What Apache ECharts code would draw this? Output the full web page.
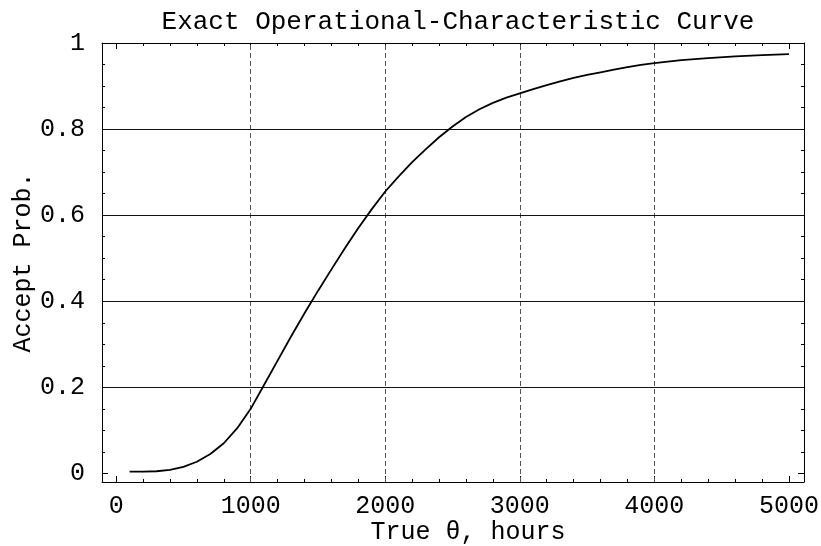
<!DOCTYPE html>
<html>
<head>
<meta charset="utf-8">
<script src="https://cdn.jsdelivr.net/npm/echarts@6/dist/echarts.min.js"></script>
<style>
  html, body { margin: 0; padding: 0; background: #fff; }
  #chart { width: 821px; height: 546px; }
</style>
</head>
<body>
<div id="chart"></div>
<script>
// Mean life θ (hours) and probability of accepting the lot
var theta = [100, 200, 300, 400, 500, 600, 700, 800, 900, 1000,
             1100, 1200, 1300, 1400, 1500, 1600, 1700, 1800, 1900, 2000,
             2100, 2200, 2300, 2400, 2500, 2600, 2700, 2800, 2900, 3000,
             3100, 3200, 3300, 3400, 3500, 3600, 3700, 3800, 3900, 4000,
             4200, 4400, 4600, 4800, 5000];
var acceptProb = [0.004, 0.004, 0.005, 0.008, 0.015, 0.027, 0.045, 0.07, 0.105, 0.15,
                  0.206, 0.262, 0.318, 0.372, 0.424, 0.474, 0.523, 0.570, 0.614, 0.655,
                  0.690, 0.723, 0.753, 0.781, 0.806, 0.828, 0.846, 0.861, 0.873, 0.883,
                  0.893, 0.902, 0.911, 0.919, 0.926, 0.932, 0.938, 0.944, 0.949, 0.953,
                  0.960, 0.965, 0.969, 0.972, 0.974];

// Tick positions
var xMajor = [0, 1000, 2000, 3000, 4000, 5000];
var xMinor = [0, 200, 400, 600, 800, 1000, 1200, 1400, 1600, 1800, 2000, 2200, 2400, 2600, 2800,
              3000, 3200, 3400, 3600, 3800, 4000, 4200, 4400, 4600, 4800, 5000];
var yMajor = [0, 0.2, 0.4, 0.6, 0.8, 1];
var yMinor = [0, 0.05, 0.1, 0.15, 0.2, 0.25, 0.3, 0.35, 0.4, 0.45, 0.5, 0.55, 0.6, 0.65,
              0.7, 0.75, 0.8, 0.85, 0.9, 0.95, 1];
var xLabels = ['0', '1000', '2000', '3000', '4000', '5000'];
var yLabels = ['0', '0.2', '0.4', '0.6', '0.8', '1'];

// Grid lines
var xGrid = [1000, 2000, 3000, 4000];
var yGrid = [0.2, 0.4, 0.6, 0.8];

var FONT = '"Liberation Mono", "DejaVu Sans Mono", monospace';
var X_MIN = -105, X_MAX = 5112, Y_MIN = -0.02, Y_MAX = 1.0;

function xAx(pos, ticks, len, line, labels) {
  return {
    type: 'value', position: pos, min: X_MIN, max: X_MAX,
    axisLine: { show: line, onZero: false, lineStyle: { color: '#000', width: 1 } },
    axisTick: { show: true, inside: true, length: len, customValues: ticks,
                lineStyle: { color: '#000', width: 1 } },
    axisLabel: labels ? {
      show: true, customValues: xMajor, color: '#000', fontFamily: FONT, fontSize: 25, margin: 12,
      formatter: function (v) { return xLabels[xMajor.indexOf(Math.round(v))]; }
    } : { show: false },
    splitLine: { show: false }
  };
}
function yAx(pos, ticks, len, line, labels) {
  return {
    type: 'value', position: pos, min: Y_MIN, max: Y_MAX,
    axisLine: { show: line, onZero: false, lineStyle: { color: '#000', width: 1 } },
    axisTick: { show: true, inside: true, length: len, customValues: ticks,
                lineStyle: { color: '#000', width: 1 } },
    axisLabel: labels ? {
      show: true, customValues: yMajor, color: '#000', fontFamily: FONT, fontSize: 25, margin: 17,
      formatter: function (v) { return yLabels[yMajor.indexOf(Math.round(v * 100) / 100)]; }
    } : { show: false },
    splitLine: { show: false }
  };
}

var xAxes = [
  xAx('bottom', xMajor, 6, true, true),
  xAx('bottom', xMinor, 3, false, false),
  xAx('top', xMajor, 6, true, false),
  xAx('top', xMinor, 3, false, false)
];
xAxes[0].name = 'True θ, hours';
xAxes[0].nameLocation = 'middle';
xAxes[0].nameMoveOverlap = false;
xAxes[0].nameGap = 38;
xAxes[0].nameTextStyle = { color: '#000', fontFamily: FONT, fontSize: 25, padding: [0, 0, 0, 30] };

var yAxes = [
  yAx('left', yMajor, 6, true, true),
  yAx('left', yMinor, 3, false, false),
  yAx('right', yMajor, 6, true, false),
  yAx('right', yMinor, 3, false, false)
];
yAxes[0].name = 'Accept Prob.';
yAxes[0].nameLocation = 'middle';
yAxes[0].nameMoveOverlap = false;
yAxes[0].nameGap = 66;
yAxes[0].nameTextStyle = { color: '#000', fontFamily: FONT, fontSize: 25 };

var gridMarks = xGrid.map(function (v) {
  return { xAxis: v, lineStyle: { color: '#555', width: 1, type: [5, 3] } };
}).concat(yGrid.map(function (v) {
  return { yAxis: v, lineStyle: { color: '#111', width: 1, type: 'solid' } };
}));

var chart = echarts.init(document.getElementById('chart'), null, { renderer: 'canvas' });
chart.setOption({
  animation: false,
  backgroundColor: '#fff',
  title: {
    text: 'Exact Operational-Characteristic Curve',
    left: 453, textAlign: 'center', top: 4,
    textStyle: { color: '#000', fontFamily: FONT, fontSize: 26, fontWeight: 'normal' }
  },
  grid: { left: 102, right: 17, top: 43, bottom: 64, containLabel: false, outerBoundsMode: 'none' },
  xAxis: xAxes,
  yAxis: yAxes,
  series: [{
    type: 'line',
    xAxisIndex: 0, yAxisIndex: 0,
    data: theta.map(function (t, i) { return [t, acceptProb[i]]; }),
    showSymbol: false,
    lineStyle: { color: '#000', width: 1.8 },
    z: 5,
    markLine: {
      silent: true, symbol: 'none', label: { show: false },
      data: gridMarks, z: 1
    }
  }]
});
</script>
</body>
</html>
